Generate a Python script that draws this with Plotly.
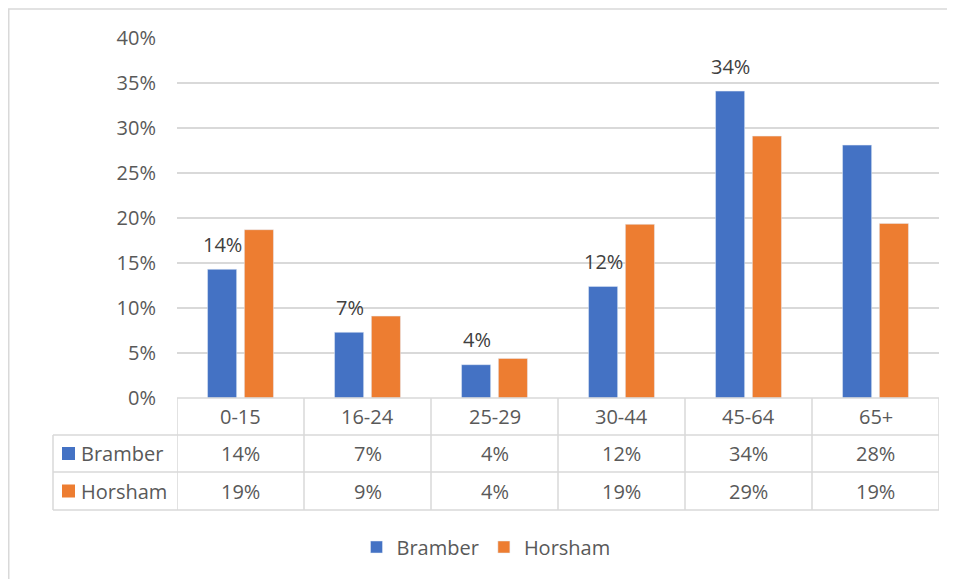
import plotly.graph_objects as go

# age bands and share of population per area
age_bands = ["0-15", "16-24", "25-29", "30-44", "45-64", "65+"]
bramber = [0.143, 0.073, 0.037, 0.124, 0.341, 0.281]
horsham = [0.187, 0.091, 0.044, 0.193, 0.291, 0.194]
# Excel only shows a data label on some of the Bramber bars
bramber_labels = ["14%", "7%", "4%", "12%", "34%", ""]
y_ticks = [0, 0.05, 0.10, 0.15, 0.20, 0.25, 0.30, 0.35, 0.40]

BLUE = "#4472C4"
ORANGE = "#ED7D31"
GRID = "#d9d9d9"
TEXT = "#595959"
FONT = "Open Sans"

# the page body adds an 8px margin, so the figure itself starts at (8, 8) on screen
PAGE = 8
W, H = 955 - PAGE, 579 - PAGE
L, R, T, B = 177, 939, 38, 398  # plot area, screen pixels


# screen pixel -> paper helpers (for the data table under the axis)
def xp(px):
    return (px - L) / (R - L)


def yp(py):
    return (B - py) / (B - T)


fig = go.Figure()
fig.add_trace(go.Bar(x=age_bands, y=bramber, name="Bramber", marker_color=BLUE))
fig.add_trace(go.Bar(x=age_bands, y=horsham, name="Horsham", marker_color=ORANGE))

# data labels on the Bramber bars
for cat, v, lab in zip(age_bands, bramber, bramber_labels):
    if not lab:
        continue
    fig.add_annotation(x=cat, y=v, xref="x", yref="y", text=lab,
                       showarrow=False, xshift=-18, yshift=25, yanchor="middle",
                       font=dict(family=FONT, size=20, color="#404040"))

# data table: header row with categories, then one row per series
row_edges = [398, 435, 472, 510]
rows = [("Bramber", bramber, BLUE), ("Horsham", horsham, ORANGE)]
line = dict(color=GRID, width=1.5)

fig.add_shape(type="line", xref="paper", yref="paper", x0=xp(L), x1=xp(R),
              y0=yp(row_edges[0]), y1=yp(row_edges[0]), line=line)
for py in row_edges[1:]:
    fig.add_shape(type="line", xref="paper", yref="paper", x0=xp(53), x1=xp(R),
                  y0=yp(py), y1=yp(py), line=line)
fig.add_shape(type="line", xref="paper", yref="paper", x0=xp(53), x1=xp(53),
              y0=yp(row_edges[1]), y1=yp(row_edges[-1]), line=line)
for i in range(len(age_bands) + 1):
    fig.add_shape(type="line", xref="x", yref="paper", x0=i - 0.5, x1=i - 0.5,
                  y0=yp(row_edges[0]), y1=yp(row_edges[-1]), line=line)

for cat in age_bands:
    fig.add_annotation(x=cat, y=yp((row_edges[0] + row_edges[1]) / 2), xref="x", yref="paper",
                       text=cat, showarrow=False, yanchor="middle",
                       font=dict(family=FONT, size=20, color=TEXT))

for r, (name, vals, color) in enumerate(rows):
    ymid = (row_edges[r + 1] + row_edges[r + 2]) / 2
    fig.add_shape(type="rect", xref="paper", yref="paper", x0=xp(62), x1=xp(75),
                  y0=yp(ymid + 6.5), y1=yp(ymid - 6.5), fillcolor=color, line_width=0)
    fig.add_annotation(x=xp(79), y=yp(ymid), xref="paper", yref="paper", text=name,
                       showarrow=False, xanchor="left", yanchor="middle",
                       font=dict(family=FONT, size=20, color=TEXT))
    for cat, v in zip(age_bands, vals):
        fig.add_annotation(x=cat, y=yp(ymid), xref="x", yref="paper", text=f"{v:.0%}",
                           showarrow=False, yanchor="middle",
                           font=dict(family=FONT, size=20, color=TEXT))

# chart border (left and top visible)
fig.add_shape(type="path", xref="paper", yref="paper",
              path=f"M {xp(8.75)},{yp(600)} L {xp(8.75)},{yp(9)} L {xp(980)},{yp(9)}",
              line=dict(color=GRID, width=1.5))

fig.update_layout(
    width=W, height=H,
    margin=dict(l=L - PAGE, r=W - (R - PAGE), t=T - PAGE, b=H - (B - PAGE)),
    plot_bgcolor="white", paper_bgcolor="white",
    font=dict(family=FONT, size=20, color=TEXT),
    barmode="group", bargap=0.42, bargroupgap=0.21,
    showlegend=True,
    legend=dict(orientation="h", x=xp(486), xanchor="center", y=yp(547), yanchor="middle",
                font=dict(family=FONT, size=20, color=TEXT), itemwidth=30,
                traceorder="normal"),
)
fig.update_xaxes(range=[-0.5, len(age_bands) - 0.5], showticklabels=False,
                 showgrid=False, zeroline=False, showline=False)
fig.update_yaxes(range=[0, 0.40], tickvals=y_ticks, tickformat=".0%",
                 showgrid=True, gridcolor=GRID, gridwidth=1.5, zeroline=False,
                 showline=False, ticklabelstandoff=20,
                 tickfont=dict(family=FONT, size=20, color=TEXT))

fig.write_html("out.html")
